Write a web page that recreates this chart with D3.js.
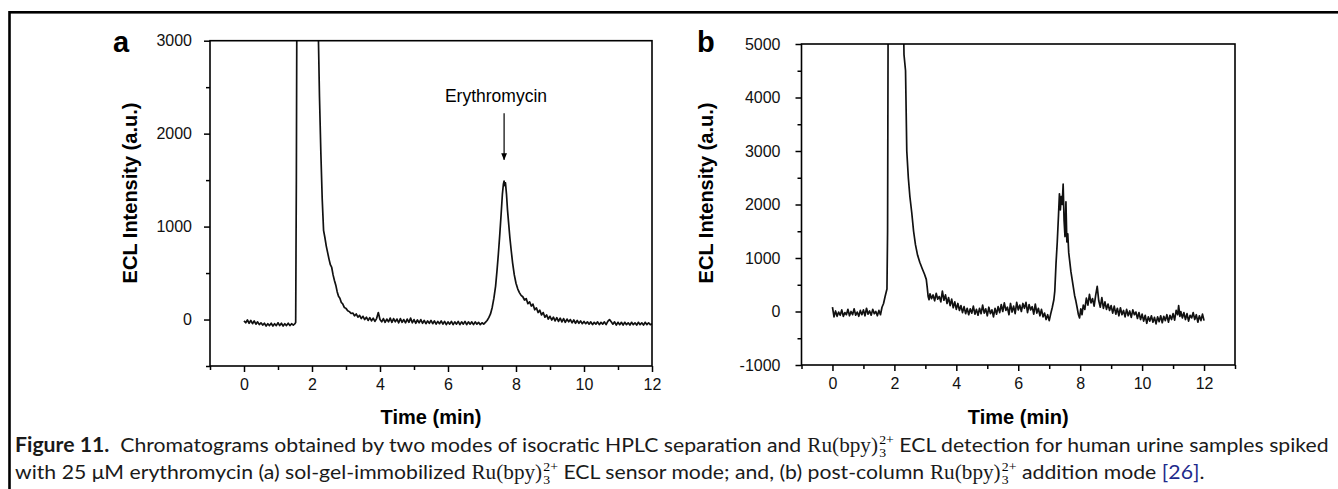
<!DOCTYPE html>
<html>
<head>
<meta charset="utf-8">
<script src="https://cdn.jsdelivr.net/npm/d3@7"></script>
<style>
body { margin: 0; background: #fff; }
svg text { font-family: "Liberation Sans", Arial, sans-serif; white-space: pre; }
</style>
</head>
<body>
<svg id="fig" width="1338" height="489"></svg>
<script>
// ---- data: [time (min), ECL intensity (a.u.)] ----
const traceA = [
[0.00,-15],[0.05,-35],[0.10,-5],[0.15,-40],[0.20,-10],[0.25,-45],[0.30,-15],[0.35,-50],[0.40,-25],[0.45,-55],
[0.50,-35],[0.55,-60],[0.60,-40],[0.65,-70],[0.70,-45],[0.75,-65],[0.80,-40],[0.85,-70],[0.90,-45],[0.95,-65],
[1.00,-35],[1.05,-65],[1.10,-40],[1.15,-70],[1.20,-45],[1.25,-65],[1.30,-40],[1.35,-65],[1.40,-45],[1.45,-60],
[1.50,-45],[1.52,-30],[1.54,1500],[1.56,4000],[2.17,4000],[2.19,3000],[2.22,2400],[2.26,1800],[2.30,1300],[2.34,960],
[2.38,880],[2.42,790],[2.46,720],[2.50,650],[2.54,590],[2.58,560],[2.62,480],[2.66,420],[2.70,370],[2.74,300],
[2.78,250],[2.82,230],[2.86,185],[2.90,170],[2.95,130],[3.00,120],[3.05,95],[3.10,85],[3.15,65],[3.20,70],
[3.25,40],[3.30,60],[3.35,25],[3.40,45],[3.45,10],[3.50,35],[3.55,0],[3.60,25],[3.65,-10],[3.70,20],
[3.75,-15],[3.80,15],[3.85,-20],[3.90,10],[3.95,75],[4.00,0],[4.05,-25],[4.10,10],[4.15,-30],[4.20,5],
[4.25,-25],[4.30,15],[4.35,-30],[4.40,10],[4.45,-25],[4.50,5],[4.55,-35],[4.60,10],[4.65,-30],[4.70,0],
[4.75,-35],[4.80,5],[4.85,-30],[4.90,15],[4.95,-35],[5.00,0],[5.05,-40],[5.10,-5],[5.15,-35],[5.20,0],
[5.25,-40],[5.30,-10],[5.35,-45],[5.40,-15],[5.45,-40],[5.50,-10],[5.55,-45],[5.60,-15],[5.65,-50],[5.70,-20],
[5.75,-45],[5.80,-15],[5.85,-50],[5.90,-20],[5.95,-55],[6.00,-25],[6.05,-50],[6.10,-20],[6.15,-55],[6.20,-25],
[6.25,-50],[6.30,-20],[6.35,-55],[6.40,-25],[6.45,-50],[6.50,-20],[6.55,-55],[6.60,-25],[6.65,-50],[6.70,-25],
[6.75,-55],[6.80,-25],[6.85,-50],[6.90,-30],[6.95,-55],[7.00,-35],[7.05,-50],[7.10,-30],[7.15,-10],[7.20,20],
[7.25,60],[7.30,130],[7.35,230],[7.40,360],[7.44,520],[7.48,700],[7.52,900],[7.56,1120],[7.60,1350],[7.63,1460],
[7.65,1490],[7.67,1440],[7.69,1470],[7.72,1350],[7.75,1180],[7.78,1050],[7.82,880],[7.86,740],[7.90,610],[7.95,480],
[8.00,390],[8.05,330],[8.10,290],[8.15,260],[8.20,245],[8.25,210],[8.30,225],[8.35,170],[8.40,190],[8.45,145],
[8.50,165],[8.55,105],[8.60,125],[8.65,75],[8.70,100],[8.75,50],[8.80,75],[8.85,25],[8.90,50],[8.95,5],
[9.00,35],[9.05,-5],[9.10,25],[9.15,-15],[9.20,20],[9.25,-20],[9.30,15],[9.35,-25],[9.40,10],[9.45,-30],
[9.50,5],[9.55,-25],[9.60,0],[9.65,-35],[9.70,-5],[9.75,-40],[9.80,-10],[9.85,-40],[9.90,-15],[9.95,-45],
[10.00,-20],[10.05,-45],[10.10,-25],[10.15,-50],[10.20,-25],[10.25,-55],[10.30,-30],[10.35,-50],[10.40,-25],[10.45,-55],
[10.50,-30],[10.55,-50],[10.60,-25],[10.65,-55],[10.70,-20],[10.75,0],[10.80,-25],[10.85,-50],[10.90,-25],[10.95,-60],
[11.00,-30],[11.05,-55],[11.10,-30],[11.15,-60],[11.20,-30],[11.25,-55],[11.30,-35],[11.35,-60],[11.40,-30],[11.45,-55],
[11.50,-35],[11.55,-60],[11.60,-30],[11.65,-55],[11.70,-35],[11.75,-60],[11.80,-30],[11.85,-55],[11.90,-35],[11.95,-55],
[12.00,-45]
];

const traceB = [
[0.00,80],[0.05,-100],[0.10,10],[0.15,-90],[0.20,-10],[0.25,-70],[0.30,30],[0.35,-90],[0.40,-20],[0.45,-60],
[0.50,40],[0.55,-80],[0.60,0],[0.65,-60],[0.70,50],[0.75,-70],[0.80,-10],[0.85,-90],[0.90,20],[0.95,-60],
[1.00,30],[1.05,-80],[1.10,60],[1.15,-50],[1.20,10],[1.25,-70],[1.30,40],[1.35,-40],[1.40,0],[1.45,-80],
[1.50,20],[1.55,-60],[1.60,80],[1.65,150],[1.70,280],[1.73,350],[1.76,420],[1.78,1500],[1.80,6000],[2.28,6000],
[2.31,4800],[2.36,4500],[2.40,3000],[2.45,2500],[2.50,2150],[2.56,1850],[2.62,1500],[2.68,1250],[2.75,1050],[2.82,920],
[2.90,800],[2.97,700],[3.03,600],[3.06,450],[3.09,280],[3.12,220],[3.15,330],[3.20,240],[3.25,310],[3.30,200],
[3.35,340],[3.40,230],[3.45,280],[3.50,180],[3.55,380],[3.60,210],[3.65,310],[3.70,150],[3.75,260],[3.80,110],
[3.85,230],[3.90,70],[3.95,180],[4.00,40],[4.05,150],[4.10,20],[4.15,110],[4.20,-20],[4.25,90],[4.30,-40],
[4.35,60],[4.40,-60],[4.45,50],[4.50,-30],[4.55,100],[4.60,-50],[4.65,40],[4.70,-70],[4.75,60],[4.80,-40],
[4.85,120],[4.90,-30],[4.95,50],[5.00,-80],[5.05,80],[5.10,-40],[5.15,30],[5.20,-100],[5.25,60],[5.30,-50],
[5.35,90],[5.40,-20],[5.45,130],[5.50,0],[5.55,160],[5.60,20],[5.65,80],[5.70,-60],[5.75,150],[5.80,-10],
[5.85,100],[5.90,-40],[5.95,170],[6.00,30],[6.05,120],[6.10,0],[6.15,150],[6.20,60],[6.25,170],[6.30,-20],
[6.35,130],[6.40,30],[6.45,90],[6.50,-50],[6.55,140],[6.60,-30],[6.65,60],[6.70,-80],[6.75,40],[6.80,-100],
[6.85,-30],[6.90,-150],[6.95,-60],[7.00,-170],[7.05,-40],[7.10,80],[7.15,220],[7.18,380],[7.22,900],[7.26,1300],
[7.30,1800],[7.33,2200],[7.36,1900],[7.39,2150],[7.42,2000],[7.45,2380],[7.48,1700],[7.51,1400],[7.54,2050],[7.57,1300],
[7.60,1450],[7.63,1100],[7.66,950],[7.70,750],[7.74,600],[7.78,450],[7.82,300],[7.86,200],[7.90,80],[7.94,-50],
[7.98,-120],[8.02,50],[8.06,-60],[8.10,120],[8.15,40],[8.20,250],[8.25,120],[8.30,320],[8.35,160],[8.40,240],
[8.45,100],[8.50,300],[8.55,470],[8.60,200],[8.65,80],[8.70,260],[8.75,60],[8.80,180],[8.85,40],[8.90,140],
[8.95,20],[9.00,110],[9.05,-30],[9.10,100],[9.15,-50],[9.20,60],[9.25,-80],[9.30,70],[9.35,-60],[9.40,20],
[9.45,-100],[9.50,40],[9.55,-80],[9.60,10],[9.65,-110],[9.70,30],[9.75,-60],[9.80,-10],[9.85,-130],[9.90,-20],
[9.95,-150],[10.00,-50],[10.05,-180],[10.10,-70],[10.15,-220],[10.20,-100],[10.25,-180],[10.30,-80],[10.35,-200],[10.40,-110],
[10.45,-230],[10.50,-100],[10.55,-190],[10.60,-80],[10.65,-210],[10.70,-90],[10.75,-170],[10.80,-60],[10.85,-200],[10.90,-70],
[10.95,-150],[11.00,-40],[11.05,-160],[11.10,20],[11.15,-60],[11.18,110],[11.22,-90],[11.25,0],[11.30,-120],[11.35,-20],
[11.40,-150],[11.45,-40],[11.50,-180],[11.55,-70],[11.60,-120],[11.65,-20],[11.70,-150],[11.75,-60],[11.80,-200],[11.85,-80],
[11.90,-170],[11.95,-50],[12.00,-170]
];

const xTicks = [0, 2, 4, 6, 8, 10, 12];
const xMinorA = [-1, 1, 3, 5, 7, 9, 11];
const xMinorB = [-1, 1, 3, 5, 7, 9, 11, 13];
const yTicksA = [0, 1000, 2000, 3000];
const yMinorA = [-500, 500, 1500, 2500];
const yTicksB = [-1000, 0, 1000, 2000, 3000, 4000, 5000];
const yMinorB = [-500, 500, 1500, 2500, 3500, 4500];
const panelLabels = ["a", "b"];
const yTitle = "ECL Intensity (a.u.)";
const xTitle = "Time (min)";
const peakLabel = "Erythromycin";
const peakTime = 7.65;

const svg = d3.select("#fig");

// outer figure frame (only left and top edges are inside the picture)
svg.append("rect")
    .attr("x", 9.5).attr("y", 12.3)
    .attr("width", 1400).attr("height", 600)
    .attr("fill", "none").attr("stroke", "#000").attr("stroke-width", 2.6);

function drawPanel(p) {
    let g = svg.append("g");
    let x = p.x, y = p.y;
    let [x0, x1] = x.range(), [y0, y1] = y.range();

    g.append("clipPath").attr("id", "clip-" + p.label)
        .append("rect")
        .attr("x", x0).attr("y", y1)
        .attr("width", x1 - x0).attr("height", y0 - y1);

    // data trace
    g.append("path")
        .datum(p.trace)
        .attr("clip-path", "url(#clip-" + p.label + ")")
        .attr("fill", "none")
        .attr("stroke", "#111")
        .attr("stroke-width", 1.7)
        .attr("stroke-linejoin", "round")
        .attr("d", d3.line().x(d => x(d[0])).y(d => y(d[1])));

    // box
    g.append("rect")
        .attr("x", x0).attr("y", y1)
        .attr("width", x1 - x0).attr("height", y0 - y1)
        .attr("fill", "none").attr("stroke", "#000").attr("stroke-width", 1.6);

    // minor ticks
    g.append("g").attr("transform", "translate(0," + y0 + ")")
        .call(d3.axisBottom(x).tickValues(p.xMinor).tickSize(4).tickFormat(""))
        .call(a => a.select(".domain").remove());
    g.append("g").attr("transform", "translate(" + x0 + ",0)")
        .call(d3.axisLeft(y).tickValues(p.yMinor).tickSize(4).tickFormat(""))
        .call(a => a.select(".domain").remove());

    // major ticks + labels (plain hyphen for negatives, as in the original)
    let xa = g.append("g").attr("transform", "translate(0," + y0 + ")")
        .call(d3.axisBottom(x).tickValues(xTicks).tickSize(6).tickPadding(7));
    let ya = g.append("g").attr("transform", "translate(" + x0 + ",0)")
        .call(d3.axisLeft(y).tickValues(p.yTicks).tickSize(6).tickPadding(p.pad).tickFormat(d => String(d)));
    [xa, ya].forEach(a => {
        a.select(".domain").remove();
        a.selectAll("text").attr("font-size", 16).attr("fill", "#111")
            .style("font-family", "'Liberation Sans', Arial, sans-serif");
    });
    g.selectAll(".tick line").attr("stroke", "#000").attr("stroke-width", 1.5);

    // panel letter
    g.append("text")
        .attr("x", p.letterX).attr("y", 51.5)
        .attr("font-size", 29).attr("font-weight", "bold")
        .text(p.label);

    // y title
    g.append("text")
        .attr("transform", "translate(" + p.titleX + "," + 193 + ") rotate(-90)")
        .attr("text-anchor", "middle")
        .attr("font-size", 20).attr("font-weight", "bold")
        .text(yTitle);

    // x title
    g.append("text")
        .attr("x", (x0 + x1) / 2).attr("y", 424)
        .attr("text-anchor", "middle")
        .attr("font-size", 20).attr("font-weight", "bold")
        .text(xTitle);
    return g;
}

let xA = d3.scaleLinear().domain([-1, 12]).range([210, 652]);
let yA = d3.scaleLinear().domain([-500, 3000]).range([366, 40.7]);
let xB = d3.scaleLinear().domain([-1, 13]).range([801.5, 1235]);
let yB = d3.scaleLinear().domain([-1000, 5000]).range([365, 44]);

let gA = drawPanel({ label: panelLabels[0], trace: traceA, x: xA, y: yA, xMinor: xMinorA,
    yTicks: yTicksA, yMinor: yMinorA, pad: 12, letterX: 113, titleX: 137 });
drawPanel({ label: panelLabels[1], trace: traceB, x: xB, y: yB, xMinor: xMinorB,
    yTicks: yTicksB, yMinor: yMinorB, pad: 15, letterX: 697, titleX: 713 });

// peak annotation in panel a
gA.append("text")
    .attr("x", 496).attr("y", yA(2340))
    .attr("text-anchor", "middle")
    .attr("font-size", 17.5)
    .text(peakLabel);
svg.append("defs").append("marker")
    .attr("id", "arrowhead")
    .attr("viewBox", "0 0 10 10").attr("refX", 9).attr("refY", 5)
    .attr("markerWidth", 6).attr("markerHeight", 7).attr("orient", "auto")
    .append("path").attr("d", "M0,1 L10,5 L0,9 z").attr("fill", "#000");
gA.append("line")
    .attr("x1", xA(peakTime)).attr("x2", xA(peakTime))
    .attr("y1", yA(2220)).attr("y2", yA(1720))
    .attr("stroke", "#000").attr("stroke-width", 1.2)
    .attr("marker-end", "url(#arrowhead)");

// ---- caption ----
const capFont = "Lato, 'Open Sans', sans-serif";
const serifFont = "'Liberation Serif', 'DejaVu Serif', serif";
const rubpy = [{ t: "Ru(bpy)", f: serifFont }, { sup: "2+", sub: "3" }];
const captionLine1 = [
    { t: "Figure 11.", b: true }, { t: "  Chromatograms obtained by two modes of isocratic HPLC separation and " },
    ...rubpy, { t: " ECL detection for human urine samples spiked" }
];
const captionLine2 = [
    { t: "with 25 \u03bcM erythromycin (a) sol-gel-immobilized " }, ...rubpy,
    { t: " ECL sensor mode; and, (b) post-column " }, ...rubpy,
    { t: " addition mode " }, { t: "[26]", c: "#1d2a8c" }, { t: "." }
];

function writeLine(g, baseY, segs) {
    let cx = 0;
    segs.forEach(s => {
        if (s.sup) {
            let a = g.append("text").attr("x", cx + 1).attr("y", baseY - 8)
                .attr("font-size", 13).style("font-family", serifFont).text(s.sup);
            let b = g.append("text").attr("x", cx + 1).attr("y", baseY + 5)
                .attr("font-size", 13).style("font-family", serifFont).text(s.sub);
            cx += Math.max(a.node().getComputedTextLength(), b.node().getComputedTextLength()) + 1;
        } else {
            let t = g.append("text").attr("x", cx).attr("y", baseY)
                .attr("font-size", 20)
                .style("font-family", s.f || capFont)
                .attr("font-weight", s.b ? "bold" : "normal")
                .attr("fill", s.c || "#1a1a1a")
                .text(s.t);
            cx += t.node().getComputedTextLength();
        }
    });
    return cx;
}

let cap = svg.append("g");
let w1 = writeLine(cap, 452, captionLine1);
writeLine(cap, 479, captionLine2);
let sx = (1329 - 15) / w1;
cap.attr("transform", "translate(15,0) scale(" + sx + ",1)");
</script>
</body>
</html>
